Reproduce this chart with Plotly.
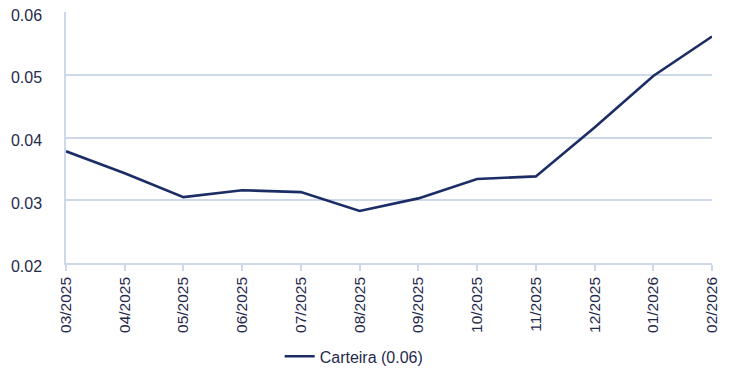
import plotly.graph_objects as go

# Monthly series for the portfolio
months = ["03/2025", "04/2025", "05/2025", "06/2025", "07/2025", "08/2025",
          "09/2025", "10/2025", "11/2025", "12/2025", "01/2026", "02/2026"]
carteira = [0.0378, 0.0343, 0.0305, 0.0316, 0.0313, 0.0283,
            0.0303, 0.0334, 0.0338, 0.0416, 0.0498, 0.0561]
y_ticks = [0.02, 0.03, 0.04, 0.05, 0.06]

navy = "#1c2d66"
text_col = "#1f2a4d"
grid_col = "#cdd8e8"

fig = go.Figure()
fig.add_trace(go.Scatter(
    x=list(range(len(months))), y=carteira, mode="lines",
    name="Carteira (0.06)",
    line=dict(color=navy, width=2.6),
))

fig.update_layout(
    width=736, height=370,
    margin=dict(l=66, r=24, t=12, b=107, autoexpand=False),
    paper_bgcolor="white", plot_bgcolor="white",
    font=dict(family="Liberation Sans, Arial, sans-serif", color=text_col, size=15),
    showlegend=True,
    legend=dict(orientation="h", xref="container", x=0.38, xanchor="left",
                yref="paper", y=-0.372, yanchor="middle",
                font=dict(size=16, color=text_col)),
)
fig.update_xaxes(
    range=[0, len(months) - 1], automargin=False,
    tickmode="array", tickvals=list(range(len(months))), ticktext=months,
    tickangle=-90, tickfont=dict(size=15.5),
    showgrid=False, showline=True, linecolor=grid_col, linewidth=1.5,
    ticks="outside", ticklen=6, tickcolor=grid_col, tickwidth=1.5,
    zeroline=False,
)
fig.update_yaxes(
    range=[0.02, 0.06], automargin=False,
    tickvals=y_ticks, ticktext=[f"{v:.2f}" for v in y_ticks],
    showgrid=True, gridcolor=grid_col, gridwidth=1.5,
    showline=True, linecolor=grid_col, linewidth=1.5,
    ticks="", ticklabelstandoff=19, ticklabelshift=3, tickfont=dict(size=16),
    zeroline=False,
)

fig.write_html("out.html")
